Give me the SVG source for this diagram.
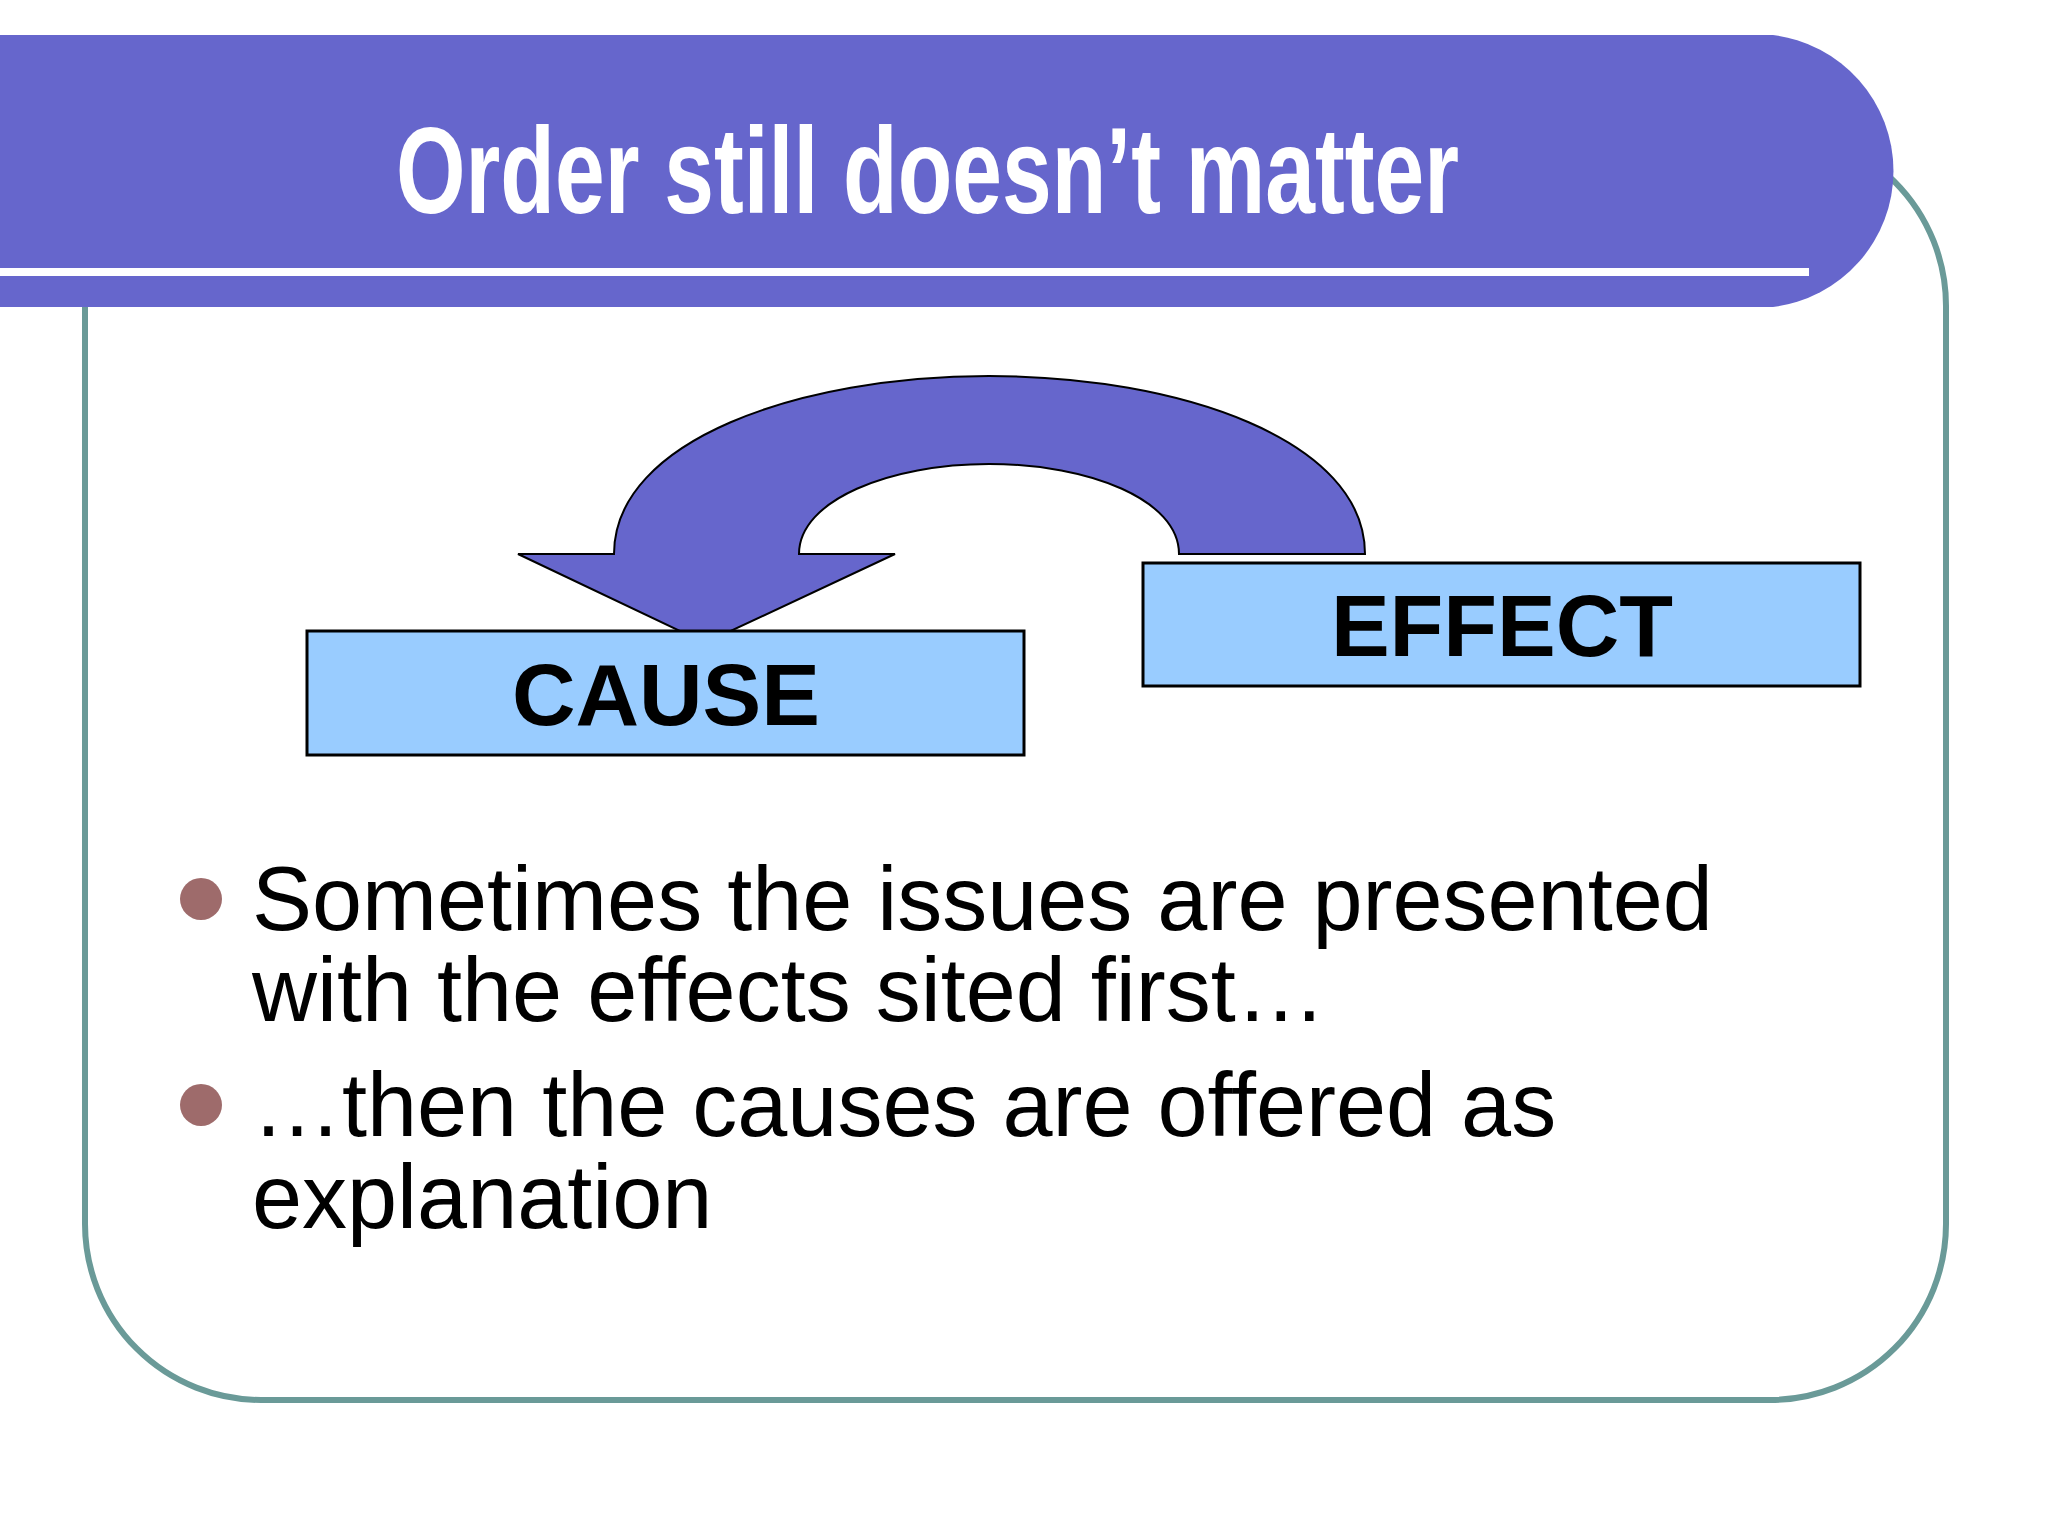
<svg xmlns="http://www.w3.org/2000/svg" width="2048" height="1536" viewBox="0 0 2048 1536">
<style>
.box{fill:#99ccff;stroke:#000;stroke-width:3}
.lbl{font-family:"Liberation Sans",Arial,sans-serif;font-weight:bold;font-size:88px;fill:#000;text-anchor:middle}
.body{font-family:"Liberation Sans",Arial,sans-serif;font-size:90px;fill:#000}
.dot{fill:#9e6b6b}
</style>
<rect width="2048" height="1536" fill="#fff"/>
<rect x="85" y="130" width="1861" height="1270" rx="176" ry="176" fill="none" stroke="#6a9a98" stroke-width="6"/>
<path d="M0 35 H1773 A137 137 0 0 1 1773 307 H0 Z" fill="#6666cc"/>
<rect x="0" y="268" width="1809" height="8" fill="#fff"/>
<text x="396" y="213" font-family="Liberation Sans,Arial,sans-serif" font-weight="bold" font-size="122" fill="#fff" textLength="1063" lengthAdjust="spacingAndGlyphs">Order still doesn’t matter</text>
<g id="connectors">
<path d="M1365 554 C1365 440 1180 376 989 376 C800 376 614 440 614 554 L518 554 L705 643 L895 554 L799 554 C799 500 890 464 989 464 C1090 464 1179 500 1179 554 Z" fill="#6666cc" stroke="#000" stroke-width="2"/>
</g>
<g id="cause">
<rect class="box" x="307" y="631" width="717" height="124"/>
<text class="lbl" x="666" y="725">CAUSE</text>
</g>
<g id="effect">
<rect class="box" x="1143" y="563" width="717" height="123"/>
<text class="lbl" x="1502" y="656">EFFECT</text>
</g>
<g id="bullets">
<circle class="dot" cx="201" cy="899" r="21"/>
<circle class="dot" cx="201" cy="1105" r="21"/>
<text class="body" x="252" y="930">Sometimes the issues are presented</text>
<text class="body" x="252" y="1021">with the effects sited first…</text>
<text class="body" x="252" y="1136">…then the causes are offered as</text>
<text class="body" x="252" y="1228">explanation</text>
</g>
</svg>
